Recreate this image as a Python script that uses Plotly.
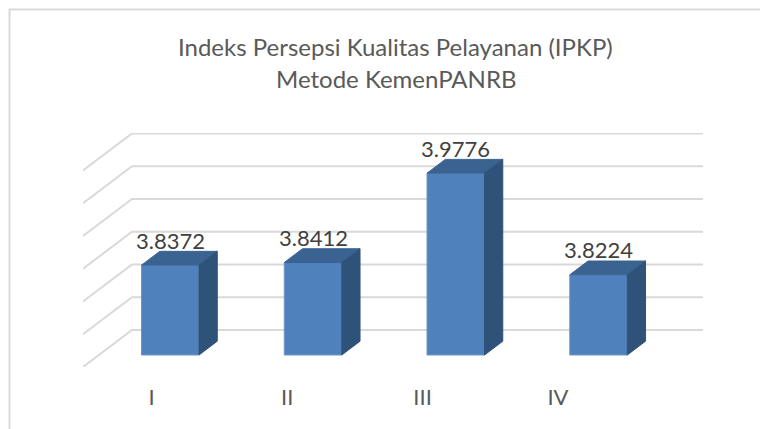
import plotly.graph_objects as go

# ---- data ----
categories = ["I", "II", "III", "IV"]
values = [3.8372, 3.8412, 3.9776, 3.8224]
value_labels = ["3.8372", "3.8412", "3.9776", "3.8224"]
grid_vals = [3.70, 3.75, 3.80, 3.85, 3.90, 3.95, 4.00]
title_lines = ["Indeks Persepsi Kualitas Pelayanan (IPKP)", "Metode KemenPANRB"]

# ---- 3D (oblique) projection parameters ----
AXIS_MIN = 3.70
DX = 0.343      # x shift (category units) for full depth
DY = 0.0565     # y shift (value units) for full depth
Z0, Z1 = 0.324, 0.697   # bar depth span
HW = 0.2014     # half bar width

FONT = "Lato"
FRONT = "#4F81BD"
TOP = "#3B6392"
SIDE = "#2F5279"
GRID = "#D9D9D9"

XRANGE = [-0.5, -0.5 + 620 / 142.76]
YRANGE = [AXIS_MIN, AXIS_MIN + 234 / 655]

fig = go.Figure()

# gridlines on back wall + left wall diagonals (base axes, drawn underneath)
for g in grid_vals:
    fig.add_trace(go.Scatter(
        x=[-0.5, -0.5 + DX, 3.5 + DX], y=[g, g + DY, g + DY],
        mode="lines", line=dict(color=GRID, width=2),
        hoverinfo="skip", showlegend=False))

xs_pos = list(range(len(categories)))

# front faces (overlay axes, drawn above gridlines)
fig.add_trace(go.Bar(
    x=[k + Z0 * DX for k in xs_pos],
    y=[v - AXIS_MIN for v in values],
    base=AXIS_MIN + Z0 * DY,
    width=2 * HW,
    xaxis="x3", yaxis="y3",
    marker=dict(color=FRONT, line=dict(color="#6D95C8", width=1)),
    showlegend=False, hoverinfo="skip"))

# top and side faces
top_x, top_y, side_x, side_y = [], [], [], []
for k, v in zip(xs_pos, values):
    xl0, xr0 = k - HW + Z0 * DX, k + HW + Z0 * DX
    xl1, xr1 = k - HW + Z1 * DX, k + HW + Z1 * DX
    yb0, yb1 = AXIS_MIN + Z0 * DY, AXIS_MIN + Z1 * DY
    yt0, yt1 = v + Z0 * DY, v + Z1 * DY
    top_x += [xl0, xr0, xr1, xl1, xl0, None]
    top_y += [yt0, yt0, yt1, yt1, yt0, None]
    side_x += [xr0, xr1, xr1, xr0, xr0, None]
    side_y += [yb0, yb1, yt1, yt0, yb0, None]

fig.add_trace(go.Scatter(x=top_x, y=top_y, fill="toself", fillcolor=TOP,
                         xaxis="x3", yaxis="y3",
                         mode="lines", line=dict(color=TOP, width=1),
                         hoverinfo="skip", showlegend=False))
fig.add_trace(go.Scatter(x=side_x, y=side_y, fill="toself", fillcolor=SIDE,
                         xaxis="x3", yaxis="y3",
                         mode="lines", line=dict(color=SIDE, width=1),
                         hoverinfo="skip", showlegend=False))

# category axis (front floor edge)
fig.add_trace(go.Scatter(x=categories, y=[AXIS_MIN] * len(categories),
                         xaxis="x2", mode="markers", marker=dict(opacity=0),
                         hoverinfo="skip", showlegend=False))

# data labels
for k, v, lab in zip(xs_pos, values, value_labels):
    fig.add_annotation(x=k + Z0 * DX, y=v + Z0 * DY, text=lab, showarrow=False,
                       yshift=25, yanchor="middle",
                       font=dict(family=FONT, size=22, color="#404040"))

# title
fig.add_annotation(xref="paper", yref="paper", x=0.5048, y=1.368, text=title_lines[0],
                   showarrow=False, yanchor="middle",
                   font=dict(family=FONT, size=24, color="#595959"))
fig.add_annotation(xref="paper", yref="paper", x=0.5048, y=1.232, text=title_lines[1],
                   showarrow=False, yanchor="middle",
                   font=dict(family=FONT, size=24, color="#595959"))

# chart border
fig.add_shape(type="rect", xref="paper", yref="paper",
              x0=(9.5 - 83) / 620, x1=1.2, y0=-0.5, y1=(367 - 9.5) / 234,
              line=dict(color="#D9D9D9", width=2), fillcolor="rgba(0,0,0,0)", layer="below")

fig.update_layout(
    width=760, height=421,
    margin=dict(l=75, r=65, t=125, b=62),
    paper_bgcolor="white", plot_bgcolor="white",
    barmode="overlay",
    xaxis=dict(range=XRANGE, visible=False, showgrid=False, zeroline=False),
    xaxis3=dict(overlaying="x", anchor="y3", range=XRANGE, visible=False,
                showgrid=False, zeroline=False),
    yaxis3=dict(overlaying="y", anchor="x3", range=YRANGE, visible=False,
                showgrid=False, zeroline=False),
    xaxis2=dict(overlaying="x", side="bottom", anchor="y", type="category",
                range=[-0.5073, -0.5073 + 620 / 135.43], showgrid=False, zeroline=False,
                showline=False, ticks="", ticklabelstandoff=15,
                tickfont=dict(family=FONT, size=22, color="#595959")),
    yaxis=dict(range=YRANGE, visible=False, showgrid=False, zeroline=False),
    font=dict(family=FONT),
)

fig.write_html("out.html")
